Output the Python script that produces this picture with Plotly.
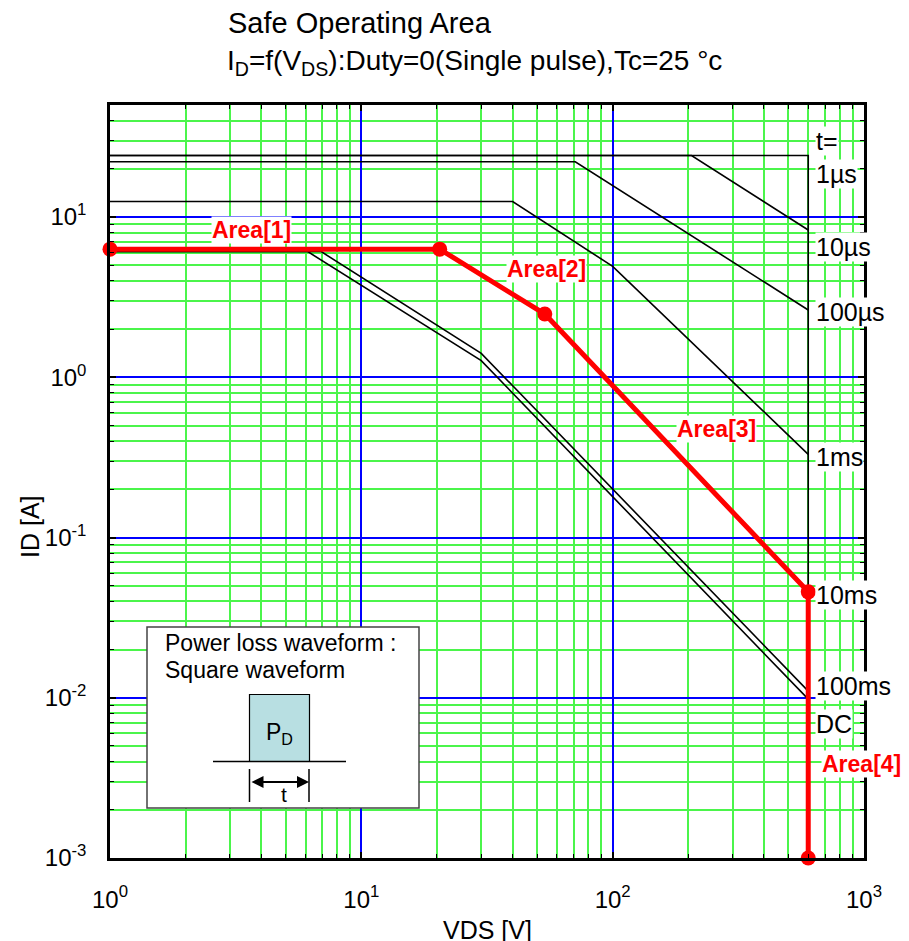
import math
import plotly.graph_objects as go

# ---- data: drain current limit [A] vs drain-source voltage [V] ----
v_1us = [1, 600, 600]
i_1us = [24.2, 24.2, 0.001]
v_10us = [1, 206, 600]
i_10us = [24.2, 24.2, 8.3]
v_100us = [1, 71, 600]
i_100us = [22.1, 22.1, 2.63]
v_1ms = [1, 40, 100, 600]
i_1ms = [12.5, 12.5, 4.92, 0.33]
v_10ms = [1, 20.5, 53.7, 600]
i_10ms = [6.3, 6.3, 2.48, 0.0458]
v_100ms = [1, 6.9, 30, 600]
i_100ms = [6.1, 6.1, 1.41, 0.011]
v_dc = [1, 6.1, 30, 600]
i_dc = [6.1, 6.1, 1.27, 0.0098]

# safe operating area boundary, Area[1]..Area[4]
v_area = [1, 20.5, 53.7, 600, 600]
i_area = [6.3, 6.3, 2.48, 0.0458, 0.001]

# pulse-width labels and the current level each sits at
curve_labels = ["t=", "1\u00b5s", "10\u00b5s", "100\u00b5s", "1ms", "10ms", "100ms", "DC"]
curve_label_i = [30.0, 18.6, 6.5, 2.55, 0.316, 0.044, 0.0118, 0.00688]

area_labels = ["Area[1]", "Area[2]", "Area[3]", "Area[4]"]

x_tick_vals = [1, 10, 100, 1000]
x_tick_text = ["10<sup>0</sup>", "10<sup>1</sup>", "10<sup>2</sup>", "10<sup>3</sup>"]
y_tick_vals = [0.001, 0.01, 0.1, 1, 10]
y_tick_text = ["10<sup>-3</sup>", "10<sup>-2</sup>", "10<sup>-1</sup>", "10<sup>0</sup>", "10<sup>1</sup>"]

FONT = "Liberation Sans, Arial, sans-serif"
W, H = 909, 941
ML, MR, MT, MB = 110, 45, 105, 83
PW, PH = W - ML - MR, H - MT - MB


def px(x):
    return (x - ML) / PW


def py(y):
    return (H - MB - y) / PH


fig = go.Figure()

black_curves = [
    (v_1us, i_1us), (v_10us, i_10us), (v_100us, i_100us), (v_1ms, i_1ms),
    (v_10ms, i_10ms), (v_100ms, i_100ms), (v_dc, i_dc),
]
for vx, iy in black_curves:
    fig.add_trace(go.Scatter(x=vx, y=iy, mode="lines",
                             line=dict(color="black", width=1.6),
                             showlegend=False, hoverinfo="skip"))

fig.add_trace(go.Scatter(x=v_area, y=i_area, mode="lines+markers",
                         line=dict(color="#ff0000", width=5),
                         marker=dict(color="#ff0000", size=15),
                         cliponaxis=False,
                         showlegend=False, hoverinfo="skip"))

green = "rgb(75,245,75)"
axis_common = dict(
    type="log", showline=True, linecolor="black", linewidth=2.5, mirror="allticks",
    ticks="inside", ticklen=6, tickcolor="black", tickwidth=1.5,
    showgrid=True, gridcolor="#0000ff", gridwidth=2,
    tickfont=dict(family=FONT, size=24, color="black"),
    minor=dict(dtick="D1", showgrid=True, gridcolor=green, gridwidth=1.5,
               ticks="inside", ticklen=4, tickcolor="black", tickwidth=1.2),
    tickmode="array", zeroline=False,
)
fig.update_xaxes(range=[0, 3], tickvals=x_tick_vals, ticktext=x_tick_text,
                 ticklabelstandoff=18, **axis_common)
fig.update_yaxes(range=[-3, 1.69897], tickvals=y_tick_vals, ticktext=y_tick_text,
                 ticklabelstandoff=16, **axis_common)

ann = []
# pulse-width labels along the 600 V limit
for txt, iv in zip(curve_labels, curve_label_i):
    ann.append(dict(x=math.log10(600), y=math.log10(iv), xref="x", yref="y",
                    text=txt, showarrow=False, xanchor="left", yanchor="middle",
                    xshift=7, bgcolor="white", borderpad=0,
                    font=dict(family=FONT, size=25, color="black")))

# area labels
area_pos = [(251, 230), (546, 269), (716, 429), (861, 764)]
for txt, (ax_, ay_) in zip(area_labels, area_pos):
    ann.append(dict(x=px(ax_), y=py(ay_), xref="paper", yref="paper", text=txt,
                    showarrow=False, xanchor="center", yanchor="middle",
                    bgcolor="white", borderpad=0,
                    font=dict(family=FONT, size=23, color="#ff0000", weight="bold")))

# titles
ann.append(dict(x=px(226), y=py(23), xref="paper", yref="paper",
                text="Safe Operating Area", showarrow=False,
                xanchor="left", yanchor="middle",
                font=dict(family=FONT, size=29, color="black")))
ann.append(dict(x=px(225), y=py(62), xref="paper", yref="paper",
                text="I<sub>D</sub>=f(V<sub>DS</sub>):Duty=0(Single pulse),Tc=25 \u00b0c",
                showarrow=False, xanchor="left", yanchor="middle",
                font=dict(family=FONT, size=28, color="black")))

# axis titles
ann.append(dict(x=px(487), y=py(930), xref="paper", yref="paper", text="VDS [V]",
                showarrow=False, xanchor="center", yanchor="middle",
                font=dict(family=FONT, size=25, color="black")))
ann.append(dict(x=px(30), y=py(527), xref="paper", yref="paper", text="ID [A]",
                showarrow=False, xanchor="center", yanchor="middle", textangle=-90,
                font=dict(family=FONT, size=25, color="black")))

# inset: power loss waveform
ann.append(dict(x=px(163), y=py(643), xref="paper", yref="paper",
                text="Power loss waveform :", showarrow=False,
                xanchor="left", yanchor="middle",
                font=dict(family=FONT, size=23, color="black")))
ann.append(dict(x=px(163), y=py(670), xref="paper", yref="paper",
                text="Square waveform", showarrow=False,
                xanchor="left", yanchor="middle",
                font=dict(family=FONT, size=23, color="black")))
ann.append(dict(x=px(279), y=py(733), xref="paper", yref="paper",
                text="P<sub>D</sub>", showarrow=False,
                xanchor="center", yanchor="middle",
                font=dict(family=FONT, size=23, color="black")))
ann.append(dict(x=px(284), y=py(794), xref="paper", yref="paper",
                text="t", showarrow=False, xanchor="center", yanchor="middle",
                font=dict(family=FONT, size=21, color="black")))
ann.append(dict(x=px(309), y=py(782), xref="paper", yref="paper", text="",
                showarrow=True, ax=-59, ay=0, axref="pixel", ayref="pixel",
                arrowside="end+start", arrowhead=2, arrowsize=1.2,
                arrowwidth=2, arrowcolor="black", standoff=0, startstandoff=0))

shapes = [
    dict(type="rect", xref="paper", yref="paper", x0=px(147), x1=px(419),
         y0=py(627), y1=py(808), line=dict(color="#444444", width=1.5),
         fillcolor="white", layer="above"),
    dict(type="rect", xref="paper", yref="paper", x0=px(249.5), x1=px(309.5),
         y0=py(694.5), y1=py(761.5), line=dict(color="black", width=1.2),
         fillcolor="#b8dfe2", layer="above"),
    dict(type="line", xref="paper", yref="paper", x0=px(213), x1=px(346),
         y0=py(761.5), y1=py(761.5), line=dict(color="black", width=1.5), layer="above"),
    dict(type="line", xref="paper", yref="paper", x0=px(249.5), x1=px(249.5),
         y0=py(769), y1=py(802), line=dict(color="black", width=1.5), layer="above"),
    dict(type="line", xref="paper", yref="paper", x0=px(309), x1=px(309),
         y0=py(769), y1=py(802), line=dict(color="black", width=1.5), layer="above"),
]

fig.update_layout(
    width=W, height=H, autosize=False,
    margin=dict(l=ML, r=MR, t=MT, b=MB),
    paper_bgcolor="white", plot_bgcolor="white",
    annotations=ann, shapes=shapes, showlegend=False,
    font=dict(family=FONT, color="black"),
)

fig.write_html("out.html")
